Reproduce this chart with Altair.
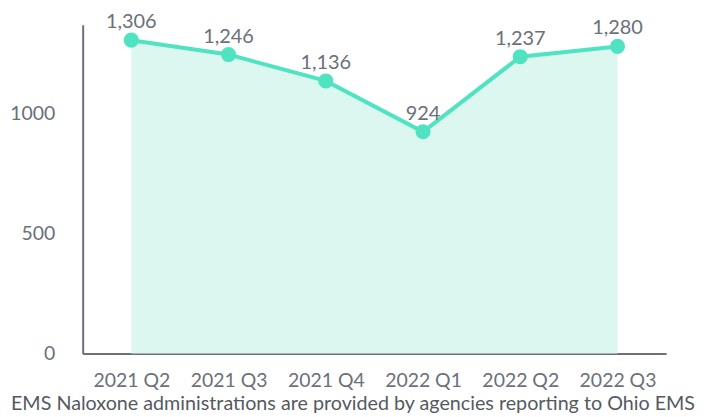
import altair as alt
import pandas as pd

quarters = ["2021 Q2", "2021 Q3", "2021 Q4", "2022 Q1", "2022 Q2", "2022 Q3"]
values = [1306, 1246, 1136, 924, 1237, 1280]
caption = "EMS Naloxone administrations are provided by agencies reporting to Ohio EMS"

df = pd.DataFrame({"q": quarters, "v": values})
df["lbl"] = [f"{v:,}" for v in values]

FONT = "Lato"
GRAY = "#6b7079"

x = alt.X("q:O", sort=quarters, scale=alt.Scale(type="point", padding=0.5),
          axis=alt.Axis(title=caption, labelAngle=0, labelFont=FONT, labelFontSize=19.5,
                        labelColor=GRAY, labelPadding=18, ticks=False, domainColor="#6b7079",
                        domainWidth=2, titleFont=FONT, titleFontSize=19.8, titleFontWeight="normal",
                        titleColor="#555a60", titleX=271, titleY=40, titleAlign="center"))
y = alt.Y("v:Q", scale=alt.Scale(domain=[0, 1370], nice=False),
          axis=alt.Axis(title=None, values=[0, 500, 1000], format="d", labelFont=FONT,
                        labelFontSize=19.5, labelColor=GRAY, labelPadding=28, ticks=False,
                        grid=False, domainColor="#6b7079", domainWidth=2))

base = alt.Chart(df).encode(x=x, y=y)
area = base.mark_area(color="#dcf7f0", opacity=1)
line = base.mark_line(color="#50e3c2", strokeWidth=4)
pts = base.mark_circle(color="#50e3c2", size=230, opacity=1)
txt = base.mark_text(dy=-18, font=FONT, fontSize=20, color=GRAY).encode(text="lbl:N")

chart = alt.layer(area, line, pts, txt).properties(
    width=586, height=330,
    autosize=alt.AutoSizeParams(type="none"),
    padding={"left": 75, "top": 16, "right": 30, "bottom": 62},
).configure_view(stroke=None)

chart.save("out.html", embed_options={"renderer": "svg", "actions": False})
